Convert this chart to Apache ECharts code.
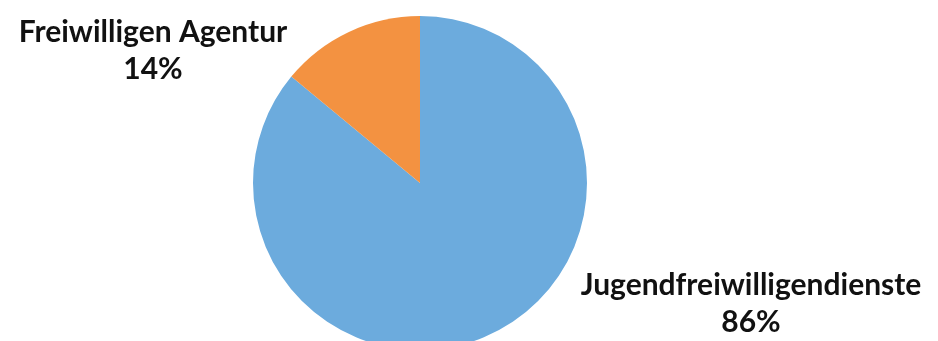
<!DOCTYPE html>
<html>
<head>
<meta charset="utf-8">
<script src="https://cdn.jsdelivr.net/npm/echarts@6/dist/echarts.min.js"></script>
<style>
  html, body { margin: 0; padding: 0; background: #fff; }
  #chart { width: 938px; height: 341px; }
</style>
</head>
<body>
<div id="chart"></div>
<script>
  var categories = ['Jugendfreiwilligendienste', 'Freiwilligen Agentur'];
  var values = [86, 14];
  var colors = ['#6cabdd', '#f39241'];
  // label block centres (px), one per category
  var labelPos = [[751, 304], [153, 51]];

  var chart = echarts.init(document.getElementById('chart'));

  var option = {
    animation: false,
    series: [{
      type: 'pie',
      center: [420, 183],
      radius: 167,
      startAngle: 90,
      clockwise: true,
      percentPrecision: 0,
      data: categories.map(function (name, i) {
        return { name: name, value: values[i], itemStyle: { color: colors[i] } };
      }),
      label: {
        show: true,
        formatter: '{b}\n{d}%',
        color: '#111',
        fontFamily: 'Lato',
        fontWeight: 'bold',
        fontSize: 30,
        lineHeight: 37,
        align: 'center'
      },
      labelLine: { show: false },
      labelLayout: function (params) {
        var p = labelPos[params.dataIndex];
        return { x: p[0], y: p[1], align: 'center', verticalAlign: 'middle' };
      },
      emphasis: { disabled: true }
    }]
  };

  chart.setOption(option);
</script>
</body>
</html>
